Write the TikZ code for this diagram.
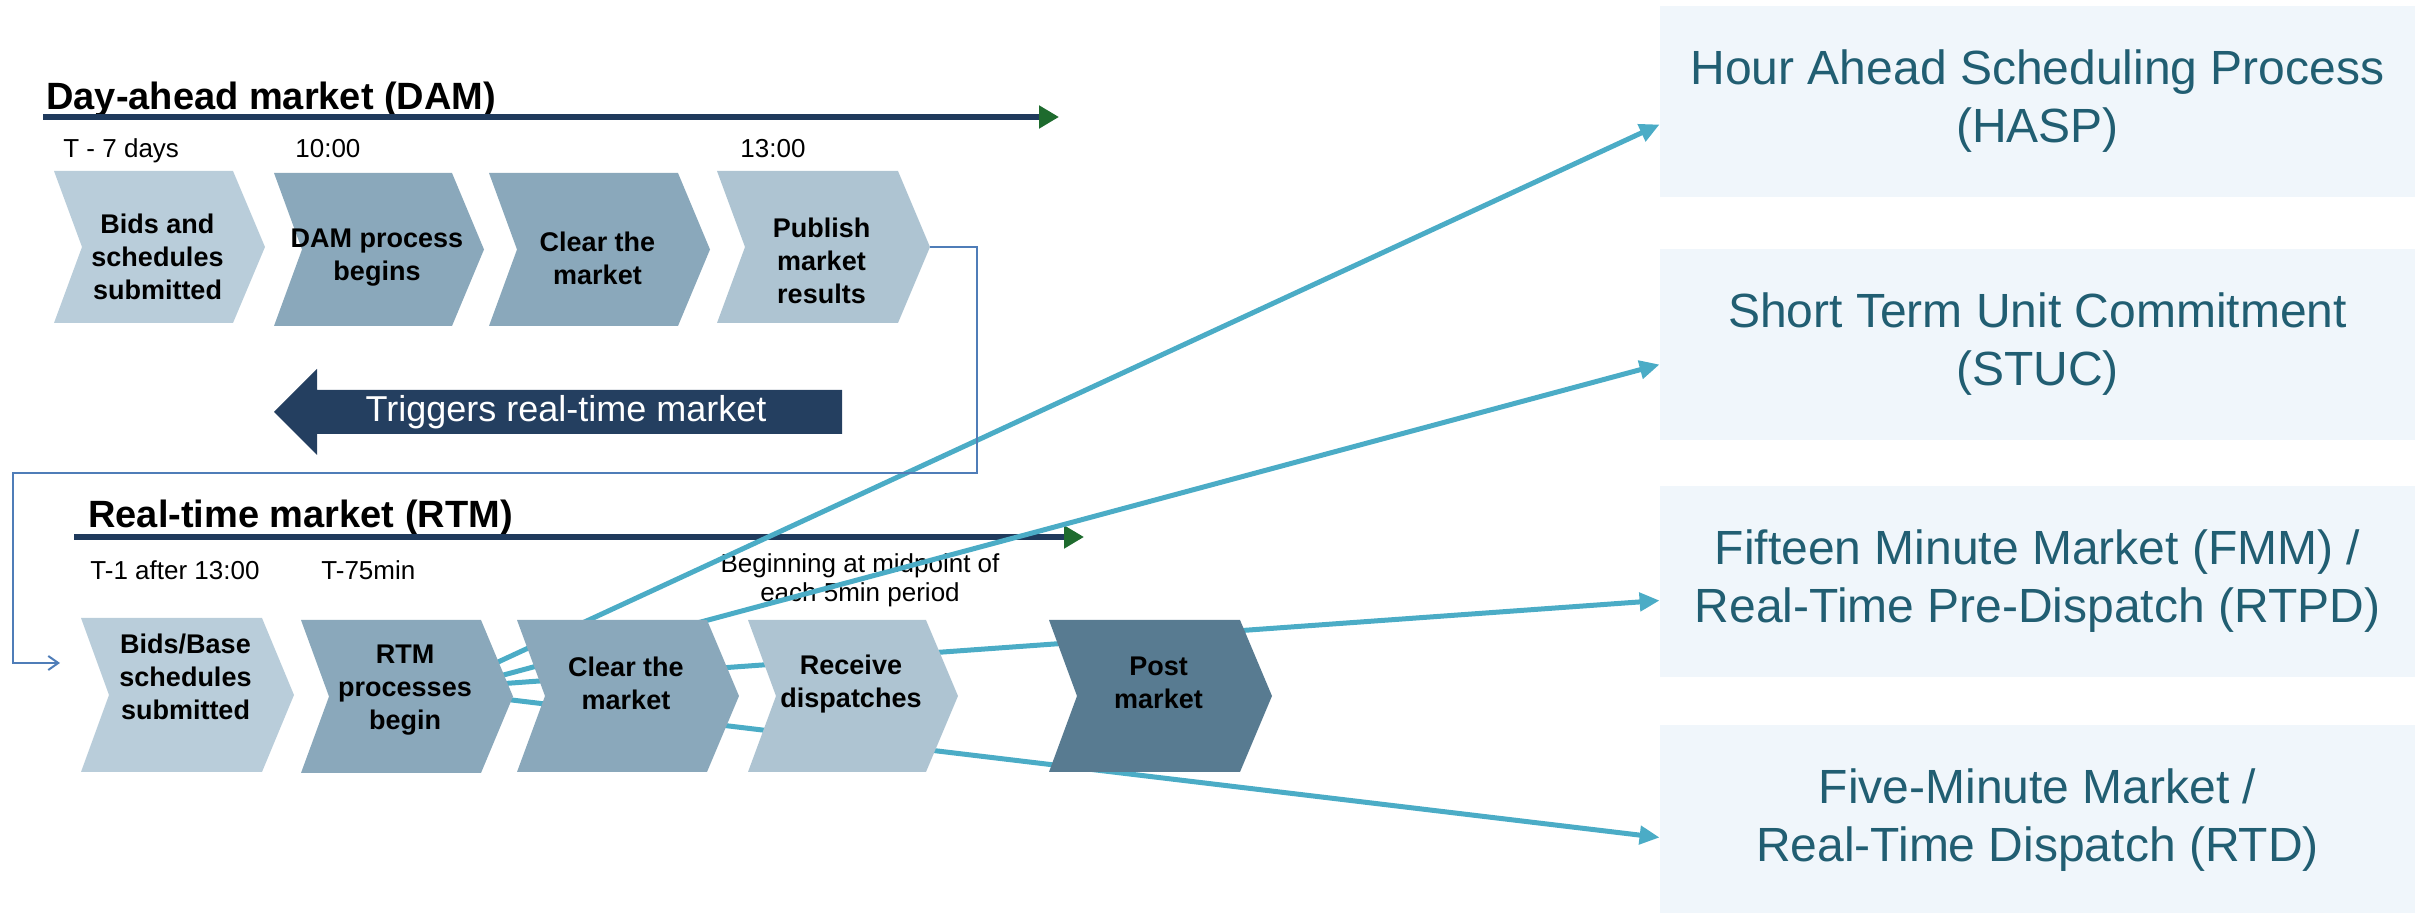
\documentclass[tikz,border=0pt]{standalone}
\usepackage{fontspec}
\setmainfont{Liberation Sans}
\usetikzlibrary{arrows.meta,calc}
\definecolor{chevlight}{HTML}{B9CDDA}
\definecolor{chevmid}{HTML}{8AA8BB}
\definecolor{chevpale}{HTML}{AEC4D2}
\definecolor{chevdark}{HTML}{587B91}
\definecolor{navy}{HTML}{243F60}
\definecolor{tlnavy}{HTML}{1F3A5C}
\definecolor{tlgreen}{HTML}{1E6B2E}
\definecolor{conblue}{HTML}{4F7DB8}
\definecolor{cyanline}{HTML}{4BACC6}
\definecolor{boxfill}{HTML}{F0F6FB}
\definecolor{boxtext}{HTML}{215E72}
\tikzset{
  chevtext/.style={font=\bfseries\fontsize{13.5pt}{16.5pt}\selectfont, align=center, text=black, inner sep=0pt},
  timeline/.style={draw=tlnavy, line width=3pt, -{Triangle[length=10pt,width=11pt,fill=tlgreen,color=tlgreen]}},
  titletext/.style={font=\bfseries\fontsize{19pt}{22pt}\selectfont, inner sep=0pt, anchor=base west},
  timetext/.style={font=\fontsize{13pt}{15pt}\selectfont, inner sep=0pt, anchor=base west},
  conn/.style={draw=conblue, line width=1pt, -{Straight Barb[length=5pt,width=7pt]}},
  cyanarrow/.style={draw=cyanline, line width=2.5pt, -{Triangle[length=10pt,width=9pt]}},
  rbox/.style={fill=boxfill, minimum width=377.5pt, minimum height=95.5pt, align=center,
    text=boxtext, font=\fontsize{24pt}{29pt}\selectfont, inner sep=0pt},
}
% name, x left, x body right, y top, y bottom, colour, text, text y offset
\newcommand\mychev[8]{%
  \fill[#6] (#2,#4) -- (#3,#4) -- ({#3+32},{(#4+#5)/2}) -- (#3,#5) -- (#2,#5) -- ({#2+28},{(#4+#5)/2}) -- cycle;
  \node[chevtext] (#1) at ({(#2+#3)/2+14},{(#4+#5)/2+#8}) {#7};
  \coordinate (#1tip) at ({#3+32},{(#4+#5)/2});
}
\begin{document}
\begin{tikzpicture}[x=0.5pt,y=-0.5pt]
\useasboundingbox (0,0) rectangle (2422,913);
% right boxes
\node[rbox] (hasp) at (2037.5,101.5) {Hour Ahead Scheduling Process\\(HASP)};
\node[rbox] (stuc) at (2037.5,344.5) {Short Term Unit Commitment\\(STUC)};
\node[rbox] (fmm) at (2037.5,581.5) {Fifteen Minute Market (FMM) /\\Real-Time Pre-Dispatch (RTPD)};
\node[rbox] (rtd) at (2037.5,820.5) {Five-Minute Market /\\Real-Time Dispatch (RTD)};
% DAM title and timeline
\node[titletext] (damtitle) at (46,110) {Day-ahead market (DAM)};
\coordinate (damstart) at (43,117);
\coordinate (damend) at (1059,117);
\draw[timeline] (damstart) -- (damend);
\node[timetext] (t1) at (63,158) {T - 7 days};
\node[timetext] (t2) at (295,158) {10:00};
\node[timetext] (t3) at (740,158) {13:00};
% RTM title and timeline
\node[titletext] (rtmtitle) at (88,528) {Real-time market (RTM)};
\coordinate (rtmstart) at (74,537);
\coordinate (rtmend) at (1084,537);
\draw[timeline] (rtmstart) -- (rtmend);
\node[timetext] (t4) at (90,580) {T-1 after 13:00};
\node[timetext] (t5) at (321,580) {T-75min};
\node[font=\fontsize{13pt}{14.5pt}\selectfont, align=center, inner sep=0pt] (t6) at (860,580) {Beginning at midpoint of\\each 5min period};
% triggers arrow
\fill[navy] (842,390) -- (317,390) -- (317,369) -- (274,412) -- (317,455) -- (317,434) -- (842,434) -- cycle;
\node[text=white, font=\fontsize{18pt}{21pt}\selectfont, inner sep=0pt] (trig) at (566,412) {Triggers real-time market};
% cyan lines (behind RTM chevrons)
\coordinate (s1) at (470,675);
\coordinate (s2) at (470,684);
\coordinate (s3) at (470,686);
\coordinate (s4) at (470,695);
\draw[cyanarrow] (s1) -- ($(hasp.west)+(0,23)$);
\draw[cyanarrow] (s2) -- ($(stuc.west)+(0,20)$);
\draw[cyanarrow] (s3) -- ($(fmm.west)+(0,19)$);
\draw[cyanarrow] (s4) -- ($(rtd.west)+(0,17)$);
% DAM chevrons
\mychev{d1}{54}{233}{171}{323}{chevlight}{Bids and\\schedules\\submitted}{10}
\mychev{d2}{274}{452}{173}{326}{chevmid}{DAM process\\begins}{8}
\mychev{d3}{489}{678}{173}{326}{chevmid}{Clear the\\market}{9}
\mychev{d4}{717}{898}{171}{323}{chevpale}{Publish\\market\\results}{14}
% connector DAM -> RTM
\coordinate (rin) at (60,663);
\draw[conn] (d4tip) -| (977,473) -| (13,663) -- (rin);
% RTM chevrons
\mychev{r1}{81}{262}{618}{772}{chevlight}{Bids/Base\\schedules\\submitted}{-18}
\mychev{r2}{301}{481}{620}{773}{chevmid}{RTM\\processes\\begin}{-6}
\mychev{r3}{517}{707}{620}{772}{chevmid}{Clear the\\market}{-13}
\mychev{r4}{748}{926}{620}{772}{chevpale}{Receive\\dispatches}{-12}
\mychev{r5}{1049}{1240}{620}{772}{chevdark}{Post\\market}{-13}
\end{tikzpicture}
\end{document}
